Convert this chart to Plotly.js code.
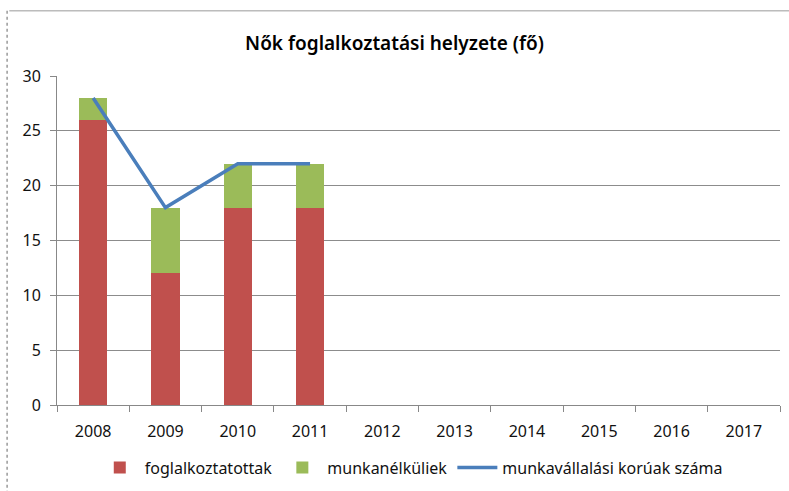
<!DOCTYPE html>
<html><head><meta charset="utf-8">
<script src="https://cdn.plot.ly/plotly-3.0.1.min.js"></script>
<style>html,body{margin:0;padding:0;background:#fff}#c{width:789px;height:491px}</style>
</head><body><div id="c"></div>
<script>
const years = ['2008','2009','2010','2011','2012','2013','2014','2015','2016','2017'];
const foglalkoztatottak = [26,12,18,18,null,null,null,null,null,null];
const munkanelkuliek = [2,6,4,4,null,null,null,null,null,null];
const munkavallalasi = [28,18,22,22,null,null,null,null,null,null];
const yTicks = [0,5,10,15,20,25,30];

const font = "Noto Sans, sans-serif";
const traces = [
  {type:'bar', name:'foglalkoztatottak', x:years, y:foglalkoztatottak, marker:{color:'#C0504D'}},
  {type:'bar', name:'munkanélküliek', x:years, y:munkanelkuliek, marker:{color:'#9BBB59'}},
  {type:'scatter', mode:'lines', name:'munkavállalási korúak száma', x:years, y:munkavallalasi,
   line:{color:'#4A7EBB', width:3.5}, connectgaps:false}
];
const layout = {
  width:789, height:491,
  margin:{l:57, r:9, t:76, b:86, autoexpand:false},
  paper_bgcolor:'#fff', plot_bgcolor:'#fff',
  barmode:'stack', bargap:0.61,
  showlegend:true,
  title:{text:'Nők foglalkoztatási helyzete (fő)', font:{family:font, size:19, color:'#000', weight:600}, x:0.5, xanchor:'center', y:0.912, yanchor:'middle'},
  font:{family:font, size:16, color:'#111'},
  xaxis:{type:'category', showline:true, linecolor:'#888', linewidth:1, ticks:'outside', tickson:'boundaries', ticklen:6, tickcolor:'#888', showgrid:false, tickfont:{size:16}, ticklabelstandoff:12, automargin:false},
  yaxis:{range:[0,30], tickvals:yTicks, showline:true, linecolor:'#888', linewidth:1, ticks:'outside', ticklen:6, tickcolor:'#888', gridcolor:'#8c8c8c', gridwidth:1, zeroline:false, tickfont:{size:16}, ticklabelstandoff:6, automargin:false},
  legend:{orientation:'h', x:0.49, xanchor:'center', y:-0.19, yanchor:'middle', font:{size:16}, traceorder:'normal', itemwidth:40},
  shapes:[
    {type:'line', xref:'paper', yref:'paper', x0:-0.066, x1:1.02, y0:1.198, y1:1.198, line:{color:'#999', width:1}},
    {type:'line', xref:'paper', yref:'paper', x0:-0.069, x1:-0.069, y0:1.198, y1:-0.3, line:{color:'#999', width:1.5, dash:'dot'}}
  ]
};
Plotly.newPlot('c', traces, layout, {displayModeBar:false, staticPlot:true});
</script></body></html>
